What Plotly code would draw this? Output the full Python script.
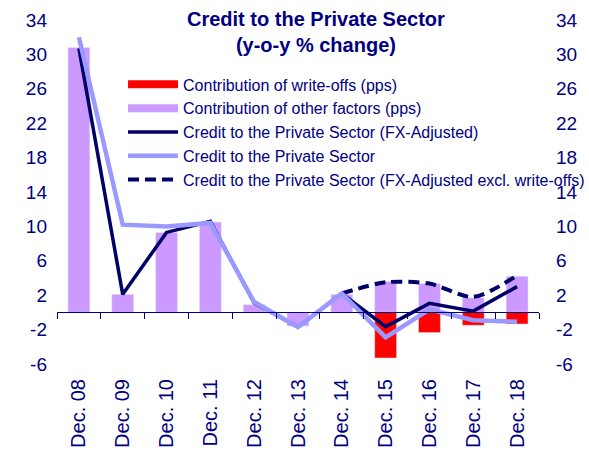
import plotly.graph_objects as go

# data
categories = ["Dec. 08", "Dec. 09", "Dec. 10", "Dec. 11", "Dec. 12", "Dec. 13",
              "Dec. 14", "Dec. 15", "Dec. 16", "Dec. 17", "Dec. 18"]
write_offs = [None, None, None, None, None, None, None, -5.3, -2.35, -1.5, -1.35]
other_factors = [30.8, 2.1, 9.3, 10.5, 0.9, -1.6, 2.1, 3.6, 3.35, 1.7, 4.2]
credit_fx_adj = [30.7, 2.1, 9.3, 10.6, 1.1, -1.7, 2.2, -1.65, 1.05, 0.15, 3.0]
credit_total = [32.0, 10.2, 10.0, 10.4, 1.2, -1.7, 2.2, -2.9, 0.35, -0.9, -1.1]
credit_fx_excl = [None, None, None, None, None, None, 2.2, 3.5, 3.35, 1.8, 4.3]
y_ticks = [-6, -2, 2, 6, 10, 14, 18, 22, 26, 30, 34]
y_tick_text = ["-6", "-2", "2", "6", "10", "14", "18", "22", "26", "30", "34"]

NAVY = "#000080"
DARK = "#000066"
LIGHT = "#9999FF"
LILAC = "#CC99FF"
RED = "#FF0000"

fig = go.Figure()

# bars (legend handled by wide line swatches below)
fig.add_trace(go.Bar(x=categories, y=other_factors, marker_color=LILAC,
                     width=0.5, showlegend=False, hoverinfo="skip"))
fig.add_trace(go.Bar(x=categories, y=write_offs, marker_color=RED,
                     width=0.5, showlegend=False, hoverinfo="skip"))

# lines
fig.add_trace(go.Scatter(x=categories, y=credit_fx_adj, mode="lines",
                         line={"color": DARK, "width": 3.5},
                         name="Credit to the Private Sector (FX-Adjusted)",
                         legendrank=3))
fig.add_trace(go.Scatter(x=categories, y=credit_fx_excl, mode="lines",
                         line={"color": DARK, "width": 4, "dash": "11px,6px",
                               "shape": "spline", "smoothing": 0.8},
                         name="Credit to the Private Sector (FX-Adjusted excl. write-offs)",
                         legendrank=5))
fig.add_trace(go.Scatter(x=categories, y=credit_total, mode="lines",
                         line={"color": LIGHT, "width": 4.5},
                         name="Credit to the Private Sector", legendrank=4))

# legend swatches for the bars
fig.add_trace(go.Scatter(x=[None], y=[None], mode="lines",
                         line={"color": RED, "width": 8},
                         name="Contribution of write-offs (pps)", legendrank=1))
fig.add_trace(go.Scatter(x=[None], y=[None], mode="lines",
                         line={"color": LILAC, "width": 8},
                         name="Contribution of other factors (pps)", legendrank=2))

# helper trace for the axis drawn along zero and the right-hand axis
fig.add_trace(go.Scatter(x=[categories[0]], y=[0], xaxis="x2", yaxis="y2",
                         mode="markers", marker={"opacity": 0},
                         showlegend=False, hoverinfo="skip"))

font_family = "Liberation Sans, Arial, sans-serif"

fig.update_layout(
    width=589,
    height=452,
    margin={"l": 57, "r": 50, "t": 20, "b": 88, "autoexpand": False},
    paper_bgcolor="white",
    plot_bgcolor="white",
    barmode="relative",
    font={"family": font_family, "color": NAVY},
    annotations=[{
        "text": "<b>Credit to the Private Sector<br>(y-o-y % change)</b>",
        "font": {"size": 20, "color": NAVY},
        "xref": "paper",
        "yref": "paper",
        "x": (316 - 57) / 482,
        "xanchor": "center",
        "y": 1 + 14 / 344,
        "yanchor": "top",
        "showarrow": False,
    }],
    legend={
        "x": 0.137,
        "y": 0.862,
        "xanchor": "left",
        "yanchor": "top",
        "bgcolor": "rgba(0,0,0,0)",
        "font": {"size": 16, "color": NAVY},
        "itemwidth": 50,
    },
    xaxis={
        "type": "category",
        "range": [-0.5, 10.5],
        "showline": False,
        "showgrid": False,
        "ticks": "",
        "tickangle": -90,
        "tickfont": {"size": 20, "color": NAVY},
        "ticklabelstandoff": 10,
    },
    xaxis2={
        "type": "category",
        "overlaying": "x",
        "matches": "x",
        "anchor": "free",
        "position": 0.15,
        "showline": True,
        "linecolor": NAVY,
        "linewidth": 1,
        "ticks": "outside",
        "tickson": "boundaries",
        "ticklen": 6,
        "tickcolor": NAVY,
        "showticklabels": False,
        "showgrid": False,
    },
    yaxis={
        "range": [-6, 34],
        "tickvals": y_ticks,
        "ticktext": y_tick_text,
        "showgrid": False,
        "zeroline": False,
        "showline": False,
        "ticks": "",
        "tickfont": {"size": 19, "color": NAVY},
        "ticklabelstandoff": 9,
    },
    yaxis2={
        "overlaying": "y",
        "matches": "y",
        "side": "right",
        "anchor": "x",
        "tickvals": y_ticks,
        "ticktext": y_tick_text,
        "showgrid": False,
        "zeroline": False,
        "showline": False,
        "ticks": "",
        "tickfont": {"size": 19, "color": NAVY},
        "ticklabelstandoff": 16,
    },
)

# drop the page's default body margin so the figure sits at the window corner
fig.write_html("out.html", config={"displayModeBar": False},
               post_script="document.body.style.margin = '0';")
